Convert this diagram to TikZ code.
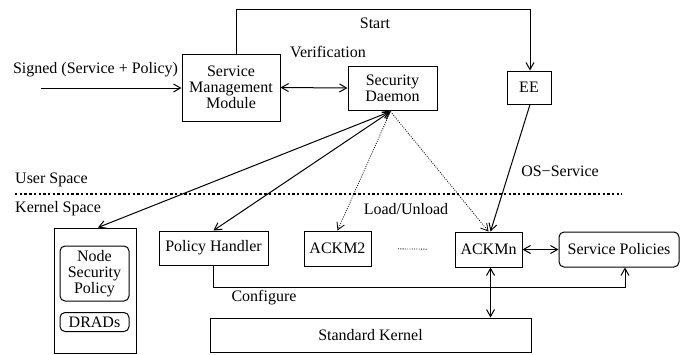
\documentclass[tikz,border=0pt]{standalone}
\usepackage{fontspec}
\setmainfont{Liberation Serif}
\usetikzlibrary{arrows.meta, positioning, calc}

\tikzset{
  box/.style={draw, line width=1pt, inner sep=0pt, align=center},
  rbox/.style={box, rounded corners=5pt},
  lbl/.style={inner sep=0pt},
  conn/.style={line width=1pt, arrows={-Straight Barb[length=7pt, width=8pt]}},
  dconn/.style={line width=1pt, arrows={Straight Barb[length=7pt, width=8pt]-Straight Barb[length=7pt, width=8pt]}},
  dotconn/.style={line width=0.8pt, dash pattern=on 0.9pt off 1.4pt, arrows={-Straight Barb[length=7pt, width=8pt]}}
}

\begin{document}
\begin{tikzpicture}[x=1pt, y=-1pt, font=\fontsize{16}{16}\selectfont]
        \useasboundingbox (0,0) rectangle (691,354);

        % User space
        \node[box, minimum width=98, minimum height=67] (smm) at (231, 87.5) {Service\\Management\\Module};
        \node[box, minimum width=89, minimum height=44] (sd) at (392.5, 88) {Security\\Daemon};
        \node[box, minimum width=44, minimum height=33] (ee) at (529, 87.5) {EE};

        % Input
        \coordinate (in) at (41, 88);
        \node[lbl] (signed) at (95.5, 70) {Signed (Service + Policy)};
        \draw[conn] (in) -- (in -| smm.west);
        \draw[dconn] (smm.east) -- (sd.west);
        \node[lbl] (verif) at (328, 52) {Verification};

        % Start
        \draw[conn] ([xshift=5]smm.north) -- ++(0,-44) -| ([xshift=1]ee.north);
        \node[lbl] (start) at (375, 23) {Start};

        % Boundary
        \coordinate (bl) at (15, 194);
        \coordinate (br) at (622, 194);
        \draw[line width=2.6pt, dash pattern=on 2.4pt off 2.3pt] (bl) -- (br);
        \node[lbl, anchor=west] (user) at (15, 180) {User Space};
        \node[lbl, anchor=west] (kernel) at (15, 209) {Kernel Space};

        % Kernel space
        \node[box, minimum width=82, minimum height=125] (nodebox) at (95, 290.5) {};
        \node[rbox, minimum width=69, minimum height=55] (nsp) at (94.5, 273.5) {Node\\Security\\Policy};
        \node[rbox, minimum width=69, minimum height=19] (drads) at (94.5, 322) {DRADs};
        \node[box, minimum width=109, minimum height=34] (ph) at (213.5, 248) {Policy Handler};
        \node[box, minimum width=67, minimum height=35] (ackm2) at (337.5, 248.5) {ACKM2};
        \node[box, minimum width=67, minimum height=35] (ackmn) at (488.5, 249.5) {ACKMn};
        \node[rbox, minimum width=120, minimum height=35] (sp) at (619, 249.5) {Service Policies};
        \node[box, minimum width=321, minimum height=34] (sk) at (370.5, 335) {Standard Kernel};
        \draw[line width=0.8pt, dash pattern=on 0.9pt off 1.4pt] ($(ackm2.east)!0.32!(ackmn.west)$) -- ($(ackm2.east)!0.68!(ackmn.west)$);

        % Daemon links
        \coordinate (sdb) at ([xshift=-2, yshift=-1]sd.south);
        \draw[dconn] (sdb) -- ([xshift=3]nodebox.north);
        \draw[dconn] (sdb) -- (ph.north);
        \draw[dotconn] (sdb) -- (ackm2.north);
        \draw[dotconn] (sdb) -- (ackmn.north);
        \node[lbl] (load) at (406, 209) {Load/Unload};

        % OS service
        \draw[conn] ([xshift=1]ee.south) -- ([xshift=2]ackmn.north);
        \node[lbl] (os) at (560, 171) {OS−Service};

        % Kernel links
        \draw[dconn] (ackmn.east) -- (sp.west);
        \draw[dconn] ([xshift=2]ackmn.south) -- ([xshift=2]ackmn.south |- sk.north);
        \draw[conn] (ph.south) -- ++(0,22) -| ([xshift=6]sp.south);
        \node[lbl] (conf) at (264, 298) {Configure};

    \end{tikzpicture}
\end{document}
